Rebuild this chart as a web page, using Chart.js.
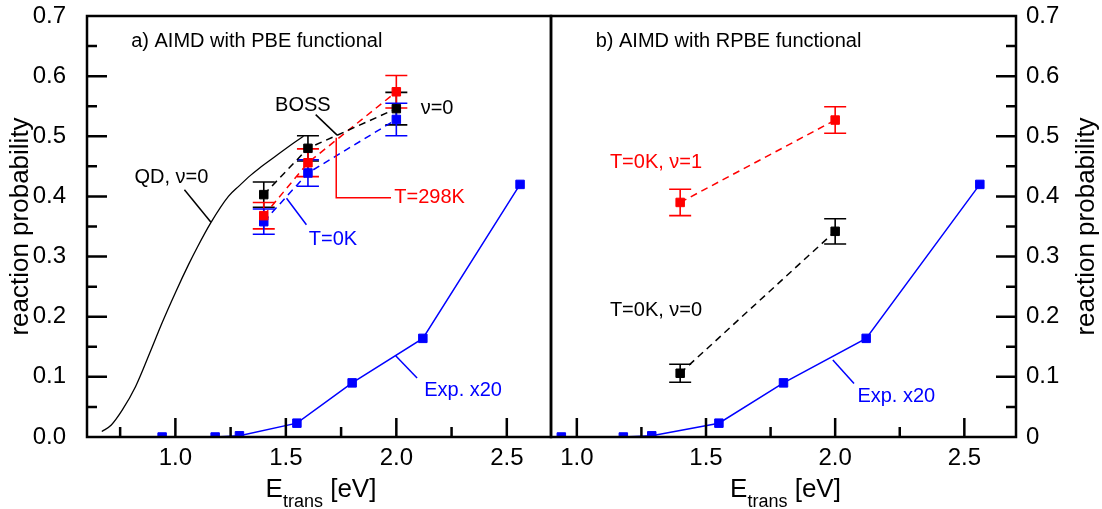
<!DOCTYPE html>
<html>
<head>
<meta charset="utf-8">
<script src="https://cdn.jsdelivr.net/npm/chart.js@4.4.1/dist/chart.umd.min.js"></script>
<style>
  html, body { margin: 0; padding: 0; background: #fff; }
  #wrap { position: relative; width: 1102px; height: 509px; overflow: hidden; }
  #left { position: absolute; left: 0; top: 0; }
  #right { position: absolute; left: 542px; top: 0; }
</style>
</head>
<body>
<div id="wrap">
  <canvas id="left" width="560" height="509"></canvas>
  <canvas id="right" width="560" height="509"></canvas>
</div>
<script>
const FONT = '"Liberation Sans", Arial, Helvetica, sans-serif';
const RED = '#ff0000';
const BLUE = '#0000ff';
const BLACK = '#000000';

// experiment (x20), same in both panels
const EXP_E = [0.94, 1.18, 1.29, 1.55, 1.80, 2.12, 2.56];
const EXP_P = [0.0, 0.0, 0.002, 0.023, 0.090, 0.164, 0.420];

// quantum dynamics, v=0 (panel a)
const QD_E = [0.667, 0.71, 0.76, 0.82, 0.89, 0.94, 1.0, 1.06, 1.10, 1.16, 1.24, 1.29, 1.34, 1.38, 1.45, 1.54, 1.58];
const QD_P = [0.009, 0.020, 0.045, 0.084, 0.145, 0.190, 0.240, 0.287, 0.316, 0.356, 0.400, 0.418, 0.435, 0.447, 0.466, 0.490, 0.500];

// AIMD with PBE (panel a)
const PBE_E = [1.4, 1.6, 2.0];
const PBE_BOSS_P = [0.403, 0.480, 0.546];
const PBE_BOSS_ERR = [0.021, 0.021, 0.027];
const PBE_298_P = [0.368, 0.456, 0.574];
const PBE_298_ERR = [0.022, 0.023, 0.027];
const PBE_0K_P = [0.358, 0.439, 0.528];
const PBE_0K_ERR = [0.021, 0.022, 0.027];

// AIMD with RPBE (panel b)
const RPBE_E = [1.4, 2.0];
const RPBE_V1_P = [0.390, 0.527];
const RPBE_V1_ERR = [0.022, 0.022];
const RPBE_V0_P = [0.106, 0.342];
const RPBE_V0_ERR = [0.015, 0.021];

// axes
const X_TICKS = [1.0, 1.5, 2.0, 2.5];
const X_MINOR = [0.75, 1.25, 1.75, 2.25];
const Y_TICKS = [0, 0.1, 0.2, 0.3, 0.4, 0.5, 0.6, 0.7];
const Y_MINOR = [0.05, 0.15, 0.25, 0.35, 0.45, 0.55, 0.65];

const pts = (xs, ys) => xs.map((x, i) => ({ x, y: ys[i] }));

function lineSet(xs, ys, color, dashed, errors) {
  return {
    data: pts(xs, ys),
    borderColor: color,
    backgroundColor: color,
    borderWidth: 1.5,
    borderDash: dashed ? [7, 5] : [],
    pointStyle: 'rect',
    pointRadius: 6,
    pointBorderWidth: 1,
    pointBackgroundColor: color,
    pointBorderColor: color,
    errors: errors || null,
  };
}

function drawXTitle(ctx, cx, baseY) {
  ctx.font = `26px ${FONT}`;
  const wE = ctx.measureText('E').width;
  const wU = ctx.measureText(' [eV]').width;
  ctx.font = `18px ${FONT}`;
  const wS = ctx.measureText('trans').width;
  let x0 = cx - (wE + wS + wU) / 2;
  ctx.textAlign = 'left';
  ctx.textBaseline = 'alphabetic';
  ctx.fillStyle = BLACK;
  ctx.font = `26px ${FONT}`;
  ctx.fillText('E', x0, baseY);
  ctx.font = `18px ${FONT}`;
  ctx.fillText('trans', x0 + wE, baseY + 10);
  ctx.font = `26px ${FONT}`;
  ctx.fillText(' [eV]', x0 + wE + wS, baseY);
}

function panelPlugin(cfg) {
  return {
    id: 'panel',
    beforeDatasetsDraw(chart) {
      const { ctx, scales: { x, y } } = chart;
      chart.data.datasets.forEach(ds => {
        if (!ds.errors) return;
        ctx.save();
        ctx.strokeStyle = ds.borderColor;
        ctx.lineWidth = 1.6;
        ds.data.forEach((p, i) => {
          const px = x.getPixelForValue(p.x);
          const y1 = y.getPixelForValue(p.y + ds.errors[i]);
          const y2 = y.getPixelForValue(p.y - ds.errors[i]);
          ctx.beginPath();
          ctx.moveTo(px, y1); ctx.lineTo(px, y2);
          ctx.moveTo(px - 11, y1); ctx.lineTo(px + 11, y1);
          ctx.moveTo(px - 11, y2); ctx.lineTo(px + 11, y2);
          ctx.stroke();
        });
        ctx.restore();
      });
    },
    afterDatasetsDraw(chart) {
      const { ctx, scales: { x, y } } = chart;
      ctx.save();
      ctx.lineWidth = 1.5;
      cfg.pointers.forEach(p => {
        ctx.strokeStyle = p.color;
        ctx.beginPath();
        p.pts.forEach(([a, b], i) => {
          const px = x.getPixelForValue(a), py = y.getPixelForValue(b);
          if (i) ctx.lineTo(px, py); else ctx.moveTo(px, py);
        });
        ctx.stroke();
      });
      ctx.font = `20px ${FONT}`;
      ctx.textBaseline = 'middle';
      cfg.notes.forEach(n => {
        ctx.fillStyle = n.color || BLACK;
        ctx.textAlign = n.align || 'left';
        ctx.fillText(n.text, x.getPixelForValue(n.x), y.getPixelForValue(n.y));
      });
      ctx.restore();
    },
    afterDraw(chart) {
      const { ctx, chartArea: a, scales: { x, y } } = chart;
      ctx.save();
      ctx.strokeStyle = BLACK;
      ctx.lineWidth = 2.5;
      ctx.strokeRect(a.left, a.top, a.right - a.left, a.bottom - a.top);
      ctx.beginPath();
      X_TICKS.concat(X_MINOR).forEach(v => {
        if (v <= x.min || v >= x.max) return;
        const px = x.getPixelForValue(v);
        const len = X_TICKS.includes(v) ? 19 : 10;
        ctx.moveTo(px, a.bottom); ctx.lineTo(px, a.bottom - len);
      });
      const side = cfg.ySide === 'right' ? a.right : a.left;
      const dir = cfg.ySide === 'right' ? -1 : 1;
      Y_TICKS.concat(Y_MINOR).forEach(v => {
        if (v <= y.min || v >= y.max) return;
        const py = y.getPixelForValue(v);
        const len = Y_TICKS.includes(v) ? 20 : 10;
        ctx.moveTo(side, py); ctx.lineTo(side + dir * len, py);
      });
      ctx.stroke();

      // axis titles
      const cy = (a.top + a.bottom) / 2;
      ctx.fillStyle = BLACK;
      ctx.font = `26px ${FONT}`;
      ctx.textAlign = 'center';
      ctx.textBaseline = 'middle';
      ctx.save();
      ctx.translate(cfg.ySide === 'right' ? a.right + 71 : a.left - 66, cy);
      ctx.rotate(-Math.PI / 2);
      ctx.fillText('reaction probability', 0, 0);
      ctx.restore();
      drawXTitle(ctx, (a.left + a.right) / 2 + 2, a.bottom + 60);
      ctx.restore();
    },
  };
}

function noPad(s) {
  s.paddingTop = 0; s.paddingBottom = 0; s.paddingLeft = 0; s.paddingRight = 0;
}

function makeOptions(xMin, yPos, yWidth, padding, zeroLabel) {
  return {
    responsive: false,
    animation: false,
    layout: { padding },
    plugins: { legend: { display: false }, tooltip: { enabled: false } },
    elements: { line: { tension: 0 } },
    scales: {
      x: {
        type: 'linear', min: xMin, max: 2.7,
        grid: { display: false, drawTicks: false },
        border: { display: false },
        afterBuildTicks: s => { s.ticks = X_TICKS.map(v => ({ value: v })); },
        afterFit: s => { s.height = 72; noPad(s); },
        ticks: {
          color: BLACK, padding: 7, maxRotation: 0, autoSkip: false,
          font: { family: FONT, size: 24 },
          callback: v => v.toFixed(1),
        },
      },
      y: {
        type: 'linear', position: yPos, min: 0, max: 0.7,
        grid: { display: false, drawTicks: false },
        border: { display: false },
        afterBuildTicks: s => { s.ticks = Y_TICKS.map(v => ({ value: v })); },
        afterFit: s => { s.width = yWidth; noPad(s); },
        ticks: {
          color: BLACK, padding: yPos === 'left' ? 21 : 10, autoSkip: false,
          font: { family: FONT, size: 24 },
          callback: v => (v === 0 ? zeroLabel : v.toFixed(1)),
        },
      },
    },
  };
}

const panelA = {
  ySide: 'left',
  notes: [
    { text: 'a) AIMD with PBE functional', x: 0.80, y: 0.657 },
    { text: 'BOSS', x: 1.577, y: 0.552, align: 'center' },
    { text: 'ν=0', x: 2.11, y: 0.547 },
    { text: 'QD, ν=0', x: 0.815, y: 0.431 },
    { text: 'T=298K', x: 1.991, y: 0.398, color: RED },
    { text: 'T=0K', x: 1.604, y: 0.328, color: BLUE },
    { text: 'Exp. x20', x: 2.126, y: 0.078, color: BLUE },
  ],
  pointers: [
    { color: BLACK, pts: [[1.041, 0.411], [1.161, 0.357]] },
    { color: BLACK, pts: [[1.635, 0.536], [1.732, 0.502]] },
    { color: RED, pts: [[1.728, 0.4975], [1.728, 0.398], [1.976, 0.398]] },
    { color: BLUE, pts: [[1.503, 0.397], [1.593, 0.353]] },
    { color: BLUE, pts: [[1.997, 0.135], [2.094, 0.098]] },
  ],
};

const panelB = {
  ySide: 'right',
  notes: [
    { text: 'b) AIMD with RPBE functional', x: 1.073, y: 0.658 },
    { text: 'T=0K, ν=1', x: 1.128, y: 0.456, color: RED },
    { text: 'T=0K, ν=0', x: 1.128, y: 0.211 },
    { text: 'Exp. x20', x: 2.086, y: 0.067, color: BLUE },
  ],
  pointers: [
    { color: BLUE, pts: [[1.991, 0.128], [2.073, 0.089]] },
  ],
};

const qd = {
  data: pts(QD_E, QD_P),
  borderColor: BLACK,
  borderWidth: 1.3,
  pointRadius: 0,
  cubicInterpolationMode: 'monotone',
};

new Chart(document.getElementById('left'), {
  type: 'line',
  data: {
    datasets: [
      qd,
      lineSet(EXP_E, EXP_P, BLUE, false),
      lineSet(PBE_E, PBE_BOSS_P, BLACK, true, PBE_BOSS_ERR),
      lineSet(PBE_E, PBE_298_P, RED, true, PBE_298_ERR),
      lineSet(PBE_E, PBE_0K_P, BLUE, true, PBE_0K_ERR),
    ],
  },
  options: makeOptions(0.6, 'left', 87, { top: 16, right: 9, left: 0, bottom: 0 }, '0.0'),
  plugins: [panelPlugin(panelA)],
});

new Chart(document.getElementById('right'), {
  type: 'line',
  data: {
    datasets: [
      lineSet(EXP_E, EXP_P, BLUE, false),
      lineSet(RPBE_E, RPBE_V1_P, RED, true, RPBE_V1_ERR),
      lineSet(RPBE_E, RPBE_V0_P, BLACK, true, RPBE_V0_ERR),
    ],
  },
  options: makeOptions(0.9, 'right', 86, { top: 16, right: 0, left: 9, bottom: 0 }, '0'),
  plugins: [panelPlugin(panelB)],
});
</script>
</body>
</html>
